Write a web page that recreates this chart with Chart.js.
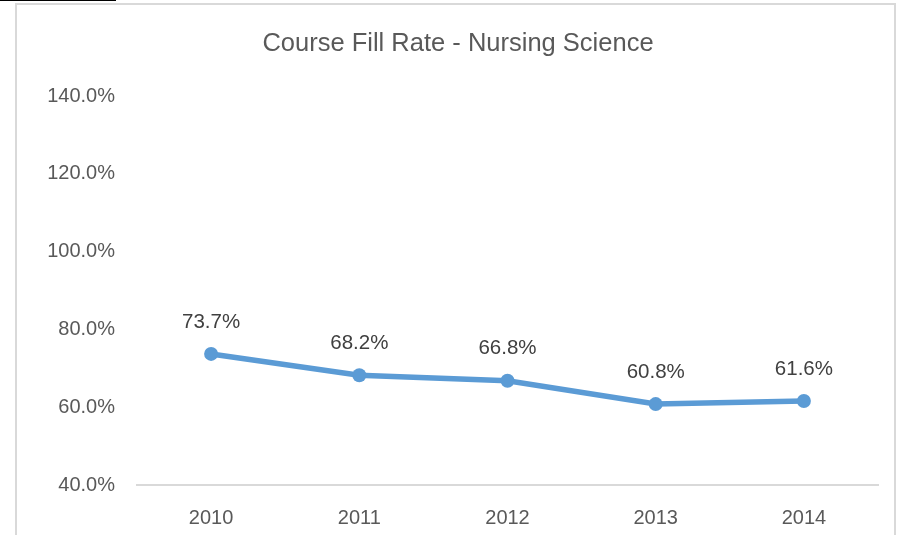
<!DOCTYPE html>
<html>
<head>
<meta charset="utf-8">
<script src="https://cdn.jsdelivr.net/npm/chart.js@4.4.1/dist/chart.umd.min.js"></script>
<style>
  html, body { margin: 0; padding: 0; background: #fff; }
  #wrap { position: relative; width: 903px; height: 535px; }
  #frame { position: absolute; left: 15px; top: 3px; width: 881px; height: 540px; border: 2px solid #d9d9d9; box-sizing: border-box; }
  #mark { position: absolute; left: 0; top: 0; width: 116px; height: 1px; background: #000; }
  canvas { position: absolute; left: 0; top: 0; }
</style>
</head>
<body>
<div id="wrap">
  <div id="frame"></div>
  <div id="mark"></div>
  <canvas id="chart" width="903" height="535"></canvas>
</div>
<script>
const years = ['2010', '2011', '2012', '2013', '2014']
const fillRate = [73.7, 68.2, 66.8, 60.8, 61.6]
const yMin = 40
const yMax = 140
const yStep = 20

const font = "'Liberation Sans', Arial, sans-serif"

const chartTitle = {
    id: 'chartTitle',
    afterDraw(chart) {
        const ctx = chart.ctx
        ctx.save()
        ctx.font = '25.5px ' + font
        ctx.fillStyle = '#595959'
        ctx.textAlign = 'center'
        ctx.textBaseline = 'middle'
        ctx.fillText('Course Fill Rate - Nursing Science', 458, 44)
        ctx.restore()
    }
}

const pointLabels = {
    id: 'pointLabels',
    afterDatasetsDraw(chart) {
        const ctx = chart.ctx
        const meta = chart.getDatasetMeta(0)
        ctx.save()
        ctx.font = '20.5px ' + font
        ctx.fillStyle = '#404040'
        ctx.textAlign = 'center'
        ctx.textBaseline = 'middle'
        meta.data.forEach((pt, i) => {
            ctx.fillText(fillRate[i].toFixed(1) + '%', pt.x, pt.y - 32)
        })
        ctx.restore()
    }
}

new Chart(document.getElementById('chart'), {
    type: 'line',
    data: {
        labels: years,
        datasets: [{
            data: fillRate,
            borderColor: '#5b9bd5',
            backgroundColor: '#5b9bd5',
            borderWidth: 5.5,
            pointRadius: 7,
            pointBorderWidth: 0,
            tension: 0
        }]
    },
    options: {
        responsive: false,
        animation: false,
        layout: { padding: { top: 96, right: 25, left: 0, bottom: 0 } },
        plugins: { legend: { display: false }, tooltip: { enabled: false } },
        scales: {
            x: {
                offset: true,
                grid: { display: false, drawTicks: false },
                border: { display: true, color: '#d9d9d9', width: 2 },
                ticks: { color: '#595959', font: { family: font, size: 20 }, padding: 21 },
                afterFit(scale) { scale.height = 50 }
            },
            y: {
                min: yMin,
                max: yMax,
                grid: { display: false, drawTicks: false },
                border: { display: false },
                ticks: {
                    stepSize: yStep,
                    color: '#595959',
                    font: { family: font, size: 20 },
                    padding: 22,
                    callback: v => v.toFixed(1) + '%'
                },
                afterFit(scale) { scale.width = 137 }
            }
        }
    },
    plugins: [chartTitle, pointLabels]
})
</script>
</body>
</html>
